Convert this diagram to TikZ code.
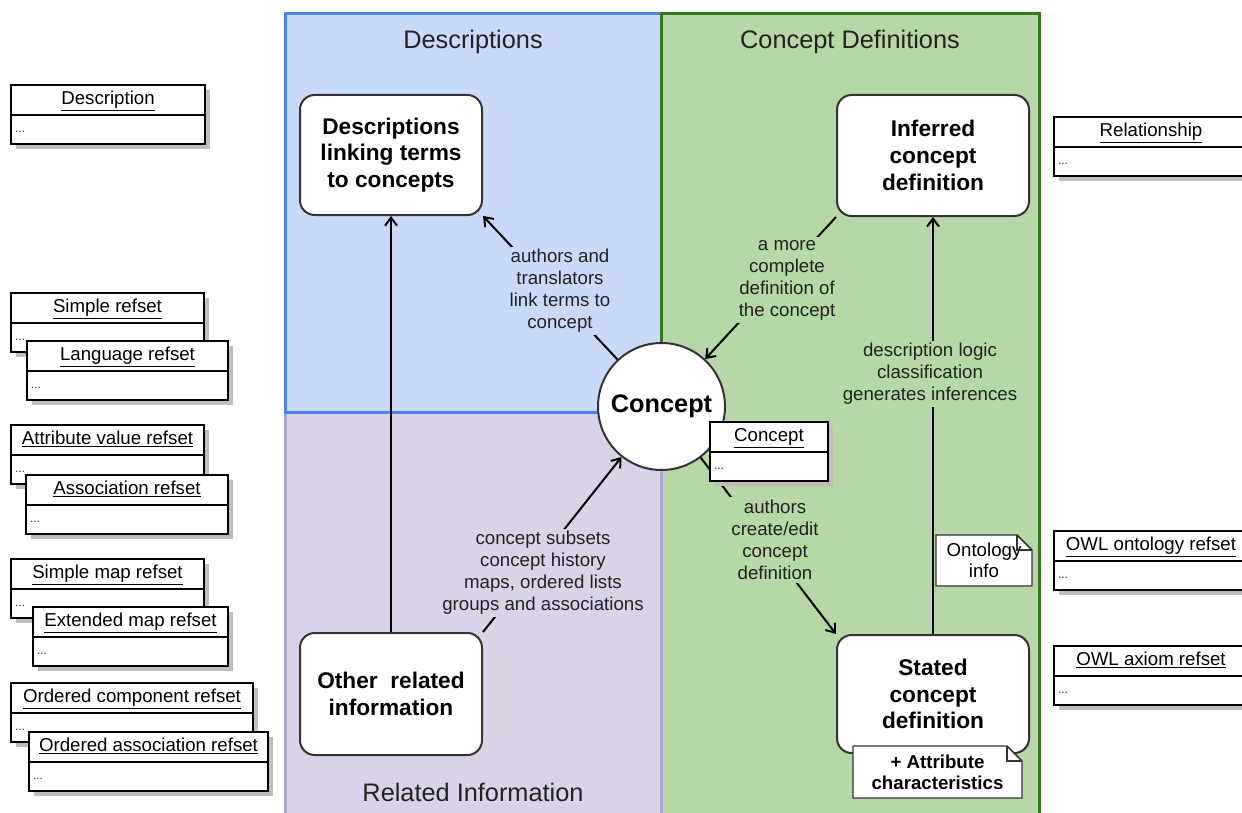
\documentclass[tikz,border=0pt]{standalone}
\usepackage{fontspec}
\setmainfont{Liberation Sans}
\usetikzlibrary{positioning, calc, arrows.meta}

\definecolor{descfill}{RGB}{201,218,248}
\definecolor{descline}{RGB}{74,134,232}
\definecolor{relfill}{RGB}{217,210,233}
\definecolor{relline}{RGB}{180,167,214}
\definecolor{deffill}{RGB}{182,215,168}
\definecolor{defline}{RGB}{56,118,29}
\definecolor{boxline}{RGB}{51,51,51}
\definecolor{umlshade}{RGB}{190,190,190}
\definecolor{inktext}{RGB}{34,34,34}

\tikzset{
  paneltitle/.style={text=inktext, inner sep=0.75pt, font=\fontsize{19}{22}\selectfont},
  conceptbox/.style={draw=boxline, line width=1.5pt, fill=white, rounded corners=11pt, align=center, inner sep=2pt, font=\bfseries\fontsize{17}{20}\selectfont},
  conceptcircle/.style={circle, draw=boxline, line width=1.5pt, fill=white, minimum size=95.25pt, inner sep=0pt, font=\bfseries\fontsize{19}{22}\selectfont},
  flowlabel/.style={text=inktext, align=center, inner sep=2pt, font=\fontsize{14}{16.5}\selectfont},
  flowarrow/.style={line width=1.5pt, -{Straight Barb[length=6pt,width=9pt,line width=1.5pt]}},
  umlhead/.style={draw=black, line width=1.8pt, fill=white, outer sep=0pt, inner xsep=3pt, inner ysep=1pt, text height=10.5pt, text depth=3.5pt, minimum height=22.5pt, font=\fontsize{14}{16}\selectfont},
  umlbody/.style={draw=black, line width=1.8pt, fill=white, outer sep=0pt, inner xsep=3pt, inner ysep=1pt, text height=5pt, text depth=1pt, minimum height=21.75pt, align=left, text=inktext, font=\fontsize{9}{10}\selectfont},
  notebox/.style={draw=boxline, line width=1.1pt, fill=white, line join=miter},
  notetext/.style={align=center, inner sep=0.75pt, font=\fontsize{14}{15.75}\selectfont},
}

% class box: name, x, y, width (px), title
\newcommand{\umlclass}[5]{%
  \pgfmathsetmacro\umlW{#4*0.75}%
  \pgfmathsetmacro\umlT{#4*0.75-6}%
  \fill[umlshade] (#2+5,#3+5) rectangle ++(#4,59);
  \node[umlhead, minimum width=\umlW pt, anchor=north west] (#1) at (#2,#3) {\underline{#5}};
  \node[umlbody, text width=\umlT pt, anchor=north west] (#1-b) at (#1.south west) {...};
}

\begin{document}
\begin{tikzpicture}[x=0.75pt,y=0.75pt,yscale=-1,xscale=1]
\useasboundingbox (0,0) rectangle (1242,813);

%Shape: Rectangle (panels)
\fill[descfill] (285,14) rectangle (661,412);
\fill[relfill] (285,412) rectangle (661,830);
\fill[deffill] (661,14) rectangle (1039,830);
\draw[relline, line width=2.25pt] (285,412) rectangle (661,830);
\draw[descline, line width=2.25pt] (285,14) rectangle (661,412);
\draw[defline, line width=2.25pt] (661,14) rectangle (1039,830);
\draw[relline, line width=2.25pt] (661,412) -- (661,830);

% Text Node
\node[paneltitle] (desctitle) at (473,42) {Descriptions};
% Text Node
\node[paneltitle] (deftitle) at (850,42) {Concept Definitions};
% Text Node
\node[paneltitle] (reltitle) at (473,792) {Related Information};

%Shape: Rounded Rect
\node[conceptbox, minimum width=136.5pt, minimum height=90pt] (desc) at (391,155) {Descriptions\\linking terms\\to concepts};
%Shape: Rounded Rect
\node[conceptbox, minimum width=144pt, minimum height=90.75pt] (inferred) at (933,155.5) {Inferred\\concept\\definition};
%Shape: Rounded Rect
\node[conceptbox, minimum width=136.5pt, minimum height=91.5pt] (other) at (391,694) {Other\ \ related\\information};
%Shape: Rounded Rect
\node[conceptbox, minimum width=144pt, minimum height=88.5pt] (stated) at (933,694) {Stated\\concept\\definition};
%Shape: Circle
\node[conceptcircle] (concept) at (661.5,406.5) {\raisebox{-2pt}{Concept}};

%Straight Lines
\draw[flowarrow] (other) -- (desc);
\draw[flowarrow] (concept) -- (desc.south east);
\draw[flowarrow] (inferred.south west) -- (concept);
\draw[flowarrow] (other.north east) -- (concept);
\draw[flowarrow] (concept) -- (stated.north west);
\draw[flowarrow] (stated) -- (inferred);

% Text Node
\node[flowlabel, fill=descfill] (lblterms) at (560,291) {authors and\\translators\\link terms to\\concept};
% Text Node
\node[flowlabel, fill=deffill] (lblcomplete) at (787,280) {a more\\complete\\definition of\\the concept};
% Text Node
\node[flowlabel, fill=relfill] (lblsubsets) at (543,573) {concept subsets\\concept history\\maps, ordered lists\\groups and associations};
% Text Node
\node[flowlabel, fill=deffill] (lblcreate) at (775,540) {authors\\create/edit\\concept\\definition};
% Text Node
\node[flowlabel, fill=deffill] (lbllogic) at (930,374) {description logic\\classification\\generates inferences};

%Shape: Note
\draw[notebox] (936,535) -- (1017,535) -- (1032,550) -- (1032,586) -- (936,586) -- cycle;
\draw[notebox, fill=none] (1017,535) -- (1017,550) -- (1032,550);
% Text Node
\node[notetext] (ontology) at (984,560.5) {Ontology\\info};
%Shape: Note
\draw[notebox] (853,746) -- (1007,746) -- (1022,761) -- (1022,798) -- (853,798) -- cycle;
\draw[notebox, fill=none] (1007,746) -- (1007,761) -- (1022,761);
% Text Node
\node[notetext, font=\bfseries\fontsize{14}{15.75}\selectfont] (attrchar) at (937.5,772) {+ Attribute\\characteristics};

%Shape: Class boxes
\umlclass{concepttbl}{710}{422}{118}{Concept}
\umlclass{description}{11}{85}{194}{Description}
\umlclass{simple}{11}{293}{193}{Simple refset}
\umlclass{language}{27}{341}{201}{Language refset}
\umlclass{attrvalue}{11}{425}{193}{Attribute value refset}
\umlclass{association}{26}{475}{202}{Association refset}
\umlclass{simplemap}{11}{559}{193}{Simple map refset}
\umlclass{extmap}{33}{607}{195}{Extended map refset}
\umlclass{ordcomp}{11}{683}{242}{Ordered component refset}
\umlclass{ordassoc}{29}{732}{239}{Ordered association refset}
\umlclass{relationship}{1054}{117}{194}{Relationship}
\umlclass{owlontology}{1054}{531}{194}{OWL ontology refset}
\umlclass{owlaxiom}{1054}{646}{194}{OWL axiom refset}
\end{tikzpicture}
\end{document}
